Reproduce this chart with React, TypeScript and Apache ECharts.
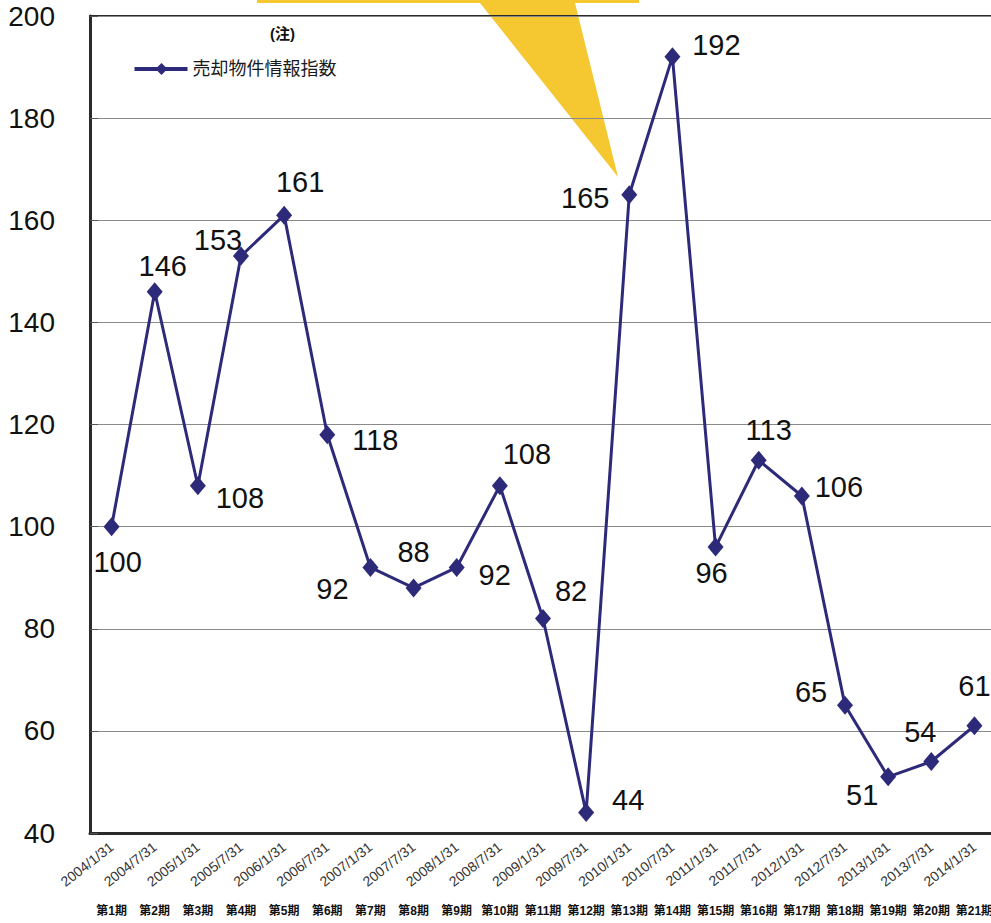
import React, { useEffect, useRef } from "react";
import * as echarts from "echarts";

const dates = [
  "2004/1/31", "2004/7/31", "2005/1/31", "2005/7/31", "2006/1/31", "2006/7/31",
  "2007/1/31", "2007/7/31", "2008/1/31", "2008/7/31", "2009/1/31", "2009/7/31",
  "2010/1/31", "2010/7/31", "2011/1/31", "2011/7/31", "2012/1/31", "2012/7/31",
  "2013/1/31", "2013/7/31", "2014/1/31",
];
const periods = dates.map((_, i) => `第${i + 1}期`);
const indexValues = [100, 146, 108, 153, 161, 118, 92, 88, 92, 108, 82, 44, 165, 192, 96, 113, 106, 65, 51, 54, 61];
const seriesName = "売却物件情報指数";
const noteText = "(注)";
const yTicks = { min: 40, max: 200, interval: 20 };

// layout only: label offsets (px) relative to each point
const labelOffsets = [
  [6, 35], [8, -26], [42, 12], [-23, -16], [16, -33], [48, 5], [-38, 22],
  [0, -36], [38, 8], [27, -32], [28, -28], [42, -13], [-44, 3], [44, -12],
  [-4, 26], [10, -30], [37, -9], [-34, -13], [-26, 18], [-11, -30], [0, -40],
];

const NARROW = "'Liberation Sans Narrow', 'Arial Narrow', 'Liberation Sans', Arial, sans-serif";
const CJK = "'Liberation Sans', 'Noto Sans CJK JP', sans-serif";
const LINE = "#2e2a7a";

export default function App() {
  const ref = useRef<HTMLDivElement>(null);
  useEffect(() => {
    if (!ref.current) return;
    const chart = echarts.init(ref.current, null, { renderer: "svg" });
    chart.setOption({
      animation: false,
      backgroundColor: "#ffffff",
      grid: {
        left: 90, right: -5, top: 16, bottom: 90,
        outerBoundsMode: "none",
        containLabel: false,
        show: true, borderColor: "#2a2a2a", borderWidth: 2,
      },
      graphic: [
        {
          type: "polygon",
          z: -10,
          silent: true,
          shape: {
            points: [[257, 0], [639, 0], [639, 3], [575, 3], [618, 177], [480, 3], [257, 3]],
          },
          style: { fill: "#f5c832" },
        },
        {
          type: "text",
          left: 270,
          top: 26,
          style: {
            text: noteText,
            font: `bold 15px ${CJK}`,
            fill: "#111",
          },
        },
        {
          type: "group",
          left: 132,
          top: 60,
          children: [
            {
              type: "line",
              shape: { x1: 0, y1: 11, x2: 53, y2: 11 },
              style: { stroke: LINE, lineWidth: 4 },
            },
            {
              type: "polygon",
              shape: { points: [[27, 5], [33, 11], [27, 17], [21, 11]] },
              style: { fill: LINE },
            },
            {
              type: "text",
              x: 58,
              y: 11,
              style: {
                text: seriesName,
                font: `18px ${CJK}`,
                fill: "#1a1a1a",
                verticalAlign: "middle",
              },
            },
          ],
        },
      ],
      xAxis: [
        {
          type: "category",
          data: dates,
          position: "bottom",
          axisLine: { show: true, lineStyle: { color: "#2a2a2a", width: 3 } },
          axisTick: { show: false },
          axisLabel: {
            rotate: 38,
            margin: 12,
            fontSize: 14,
            color: "#333",
            fontFamily: NARROW,
            interval: 0,
          },
        },
        {
          type: "category",
          data: periods,
          position: "bottom",
          axisLine: { show: false },
          axisTick: { show: false },
          axisLabel: {
            margin: 72,
            fontSize: 12,
            color: "#111",
            fontWeight: "bold",
            fontFamily: CJK,
            interval: 0,
          },
        },
      ],
      yAxis: {
        type: "value",
        min: yTicks.min,
        max: yTicks.max,
        interval: yTicks.interval,
        axisLine: { show: true, lineStyle: { color: "#2a2a2a", width: 3 } },
        axisTick: { show: true, inside: true, length: 8, lineStyle: { color: "#555" } },
        splitLine: { show: true, lineStyle: { color: "#8a8a8a", width: 1 } },
        axisLabel: {
          margin: 35,
          fontSize: 28,
          color: "#111",
          fontFamily: NARROW,
        },
      },
      series: [
        {
          name: seriesName,
          type: "line",
          data: indexValues.map((v, i) => ({
            value: v,
            label: { offset: labelOffsets[i] },
          })),
          symbol: "diamond",
          symbolSize: [16, 19],
          lineStyle: { color: LINE, width: 3 },
          itemStyle: { color: LINE },
          z: 5,
          label: {
            show: true,
            position: "inside",
            fontSize: 29,
            color: "#111",
            fontFamily: NARROW,
          },
        },
      ],
    });
    return () => chart.dispose();
  }, []);
  return (
    <div
      ref={ref}
      style={{ position: "fixed", left: 0, top: 0, width: 991, height: 923 }}
    />
  );
}
